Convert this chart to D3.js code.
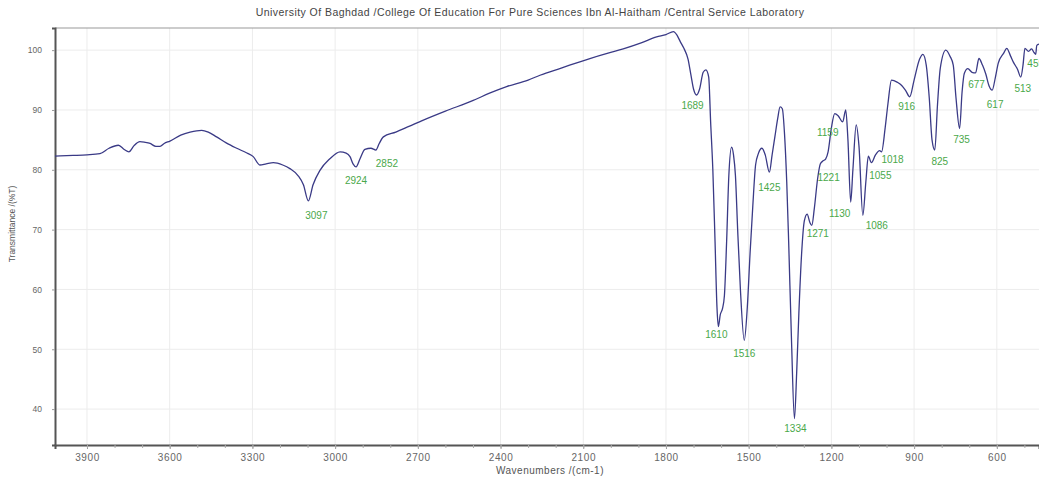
<!DOCTYPE html>
<html>
<head>
<meta charset="utf-8">
<script src="https://cdn.jsdelivr.net/npm/d3@7"></script>
<style>
  body { margin: 0; background: #fff; }
  svg { display: block; font-family: "Liberation Sans", Arial, sans-serif; }
</style>
</head>
<body>
<svg id="chart" width="1039" height="477"></svg>
<script>
// wavenumber (cm-1) and transmittance (%T)
const wavenumbers = [
  4016, 3950, 3900, 3853, 3820, 3786, 3765, 3748, 3730, 3708, 3690, 3671, 3650, 3635, 3620, 3599,
  3560, 3526, 3484, 3460, 3430, 3395, 3357, 3320, 3297, 3273, 3250, 3224, 3190, 3164, 3134, 3115,
  3097, 3080, 3055, 3020, 2982, 2960, 2946, 2935, 2924, 2910, 2892, 2870, 2852, 2840, 2825, 2780,
  2730, 2680, 2600, 2499, 2440, 2378, 2300, 2257, 2180, 2076, 2010, 1955, 1890, 1834, 1800, 1773,
  1760, 1749, 1735, 1720, 1710, 1700, 1689, 1678, 1665, 1655, 1645, 1638, 1630, 1622, 1615, 1610,
  1603, 1595, 1588, 1580, 1572, 1562, 1555, 1548, 1540, 1530, 1516, 1505, 1495, 1485, 1475, 1465,
  1452, 1440, 1425, 1415, 1405, 1395, 1386, 1378, 1370, 1362, 1355, 1345, 1334, 1326, 1318, 1308,
  1298, 1288, 1278, 1271, 1262, 1250, 1240, 1230, 1221, 1212, 1200, 1188, 1175, 1159, 1148, 1140,
  1130, 1122, 1110, 1100, 1086, 1075, 1066, 1055, 1040, 1025, 1018, 1005, 995, 982, 960, 945,
  930, 916, 900, 880, 868, 856, 845, 835, 825, 815, 805, 785, 770, 758, 748, 735,
  726, 718, 705, 690, 677, 665, 652, 640, 628, 617, 605, 595, 575, 564, 550, 540,
  525, 513, 505, 498, 485, 474, 465, 459, 455, 447
];
const transmittance = [
  82.3, 82.4, 82.5, 82.7, 83.6, 84.1, 83.4, 83.0, 84.0, 84.7, 84.6, 84.4, 83.9, 83.9, 84.4, 84.8,
  85.8, 86.3, 86.6, 86.3, 85.5, 84.5, 83.6, 82.8, 82.2, 80.8, 81.0, 81.2, 80.8, 80.2, 79.0, 77.5,
  74.8, 77.5, 79.9, 81.8, 83.0, 82.8, 82.2, 81.0, 80.5, 81.8, 83.4, 83.6, 83.3, 84.4, 85.5, 86.3,
  87.3, 88.3, 89.8, 91.6, 92.8, 93.9, 95.0, 95.8, 97.0, 98.6, 99.5, 100.2, 101.2, 102.2, 102.6, 103.1,
  102.5, 101.5, 100.3, 98.5, 96.0, 93.5, 92.5, 93.5, 96.3, 96.7, 95.5, 88.0, 80.0, 68.0, 57.0, 53.8,
  55.8, 56.8, 59.0, 68.0, 79.0, 83.8, 82.5, 79.0, 70.0, 60.0, 51.5, 57.0, 66.0, 74.0, 80.8, 82.7,
  83.6, 82.5, 79.6, 82.5, 85.5, 88.5, 90.5, 90.2, 86.0, 78.0, 68.0, 52.0, 38.4, 46.0, 56.0, 66.0,
  71.5, 72.6, 71.2, 70.7, 73.5, 78.5, 81.0, 81.5, 81.8, 83.0, 87.0, 89.4, 89.0, 88.0, 90.0, 85.0,
  74.6, 80.0, 87.5, 84.0, 72.4, 78.0, 82.3, 81.2, 82.5, 83.2, 83.0, 87.0, 91.0, 95.0, 94.6, 94.1,
  93.2, 92.2, 95.0, 98.5, 99.3, 97.5, 92.0, 85.0, 83.3, 91.0, 97.0, 100.0, 99.0, 97.5, 92.0, 86.9,
  93.0, 96.1, 96.9, 96.3, 96.2, 98.6, 97.5, 96.0, 94.0, 93.3, 95.5, 97.8, 99.5, 100.3, 99.0, 98.0,
  96.8, 95.5, 97.5, 100.3, 99.8, 100.2, 99.6, 99.3, 100.8, 101.0
];
const peaks = [3097, 2924, 2852, 1689, 1610, 1516, 1425, 1334, 1271, 1221, 1159, 1130, 1086,
  1055, 1018, 916, 825, 735, 677, 617, 513, 459];
const xTicks = [3900, 3600, 3300, 3000, 2700, 2400, 2100, 1800, 1500, 1200, 900, 600];
const yTicks = [40, 50, 60, 70, 80, 90, 100];

const titleText = "University Of Baghdad /College Of Education For Pure Sciences Ibn Al-Haitham /Central Service Laboratory";

let margin = {top: 28, right: 0, bottom: 32, left: 55};
let width_full = 1039, height_full = 477;

let svg = d3.select("#chart");

let x = d3.scaleLinear()
          .domain([4016, 447])
          .range([margin.left, width_full - margin.right]);
let y = d3.scaleLinear()
          .domain([34, 103.7])
          .range([height_full - margin.bottom, margin.top]);

let data = wavenumbers.map((w, i) => ({w: w, t: transmittance[i]}));

// grid
let grid = svg.append("g");
grid.selectAll("line.vx")
    .data(xTicks)
    .enter()
    .append("line")
    .attr("x1", d => x(d)).attr("x2", d => x(d))
    .attr("y1", y(103.7)).attr("y2", y(34))
    .attr("stroke", "#ececec");
grid.selectAll("line.hy")
    .data(yTicks)
    .enter()
    .append("line")
    .attr("x1", x(4016)).attr("x2", x(447))
    .attr("y1", d => y(d)).attr("y2", d => y(d))
    .attr("stroke", "#ececec");

// title
svg.append("text")
   .attr("x", 530)
   .attr("y", 16)
   .attr("text-anchor", "middle")
   .attr("font-size", "10.5px")
   .attr("fill", "#444")
   .style("letter-spacing", "0.45px")
   .text(titleText);

// top frame line
svg.append("line")
   .attr("x1", margin.left).attr("x2", width_full)
   .attr("y1", margin.top).attr("y2", margin.top)
   .attr("stroke", "#999").attr("stroke-width", 1.2);

// axes
let xAxis = d3.axisBottom(x)
              .tickValues(xTicks)
              .tickSize(4)
              .tickFormat(d3.format("d"));
let xMinor = d3.axisBottom(x)
               .tickValues(d3.range(3900, 447, -100))
               .tickSize(3)
               .tickFormat("");

let gx = svg.append("g")
            .attr("transform", "translate(0," + (height_full - margin.bottom) + ")")
            .call(xAxis);
svg.append("g")
   .attr("transform", "translate(0," + (height_full - margin.bottom) + ")")
   .call(xMinor)
   .call(g => g.select(".domain").remove())
   .selectAll("line").attr("stroke", "#aaa");

gx.select(".domain").attr("stroke", "#555").attr("stroke-width", 2);
gx.selectAll(".tick line").attr("stroke", "#999");
gx.selectAll(".tick text")
  .attr("fill", "#666")
  .attr("font-size", "10px")
  .attr("dy", "0.9em")
  .style("letter-spacing", "0.6px");

let yAxis = d3.axisLeft(y)
              .tickValues(yTicks)
              .tickSize(3)
              .tickFormat(d3.format("d"));
let gy = svg.append("g")
            .attr("transform", "translate(" + margin.left + ",0)")
            .call(yAxis);
gy.select(".domain").attr("stroke", "#555").attr("stroke-width", 2);
gy.selectAll(".tick line").attr("stroke", "#999");
gy.selectAll(".tick text")
  .attr("fill", "#666")
  .attr("font-size", "8.5px")
  .attr("x", -13);

// axis titles
svg.append("text")
   .attr("x", 550)
   .attr("y", 474)
   .attr("text-anchor", "middle")
   .attr("font-size", "10px")
   .attr("fill", "#555")
   .style("letter-spacing", "0.5px")
   .text("Wavenumbers /(cm-1)");
svg.append("text")
   .attr("transform", "translate(15,224) rotate(-90)")
   .attr("text-anchor", "middle")
   .attr("font-size", "8.5px")
   .attr("fill", "#555")
   .text("Transmittance /(%T)");

// spectrum
let line = d3.line()
             .x(d => x(d.w))
             .y(d => y(d.t))
             .curve(d3.curveMonotoneX);

svg.append("path")
   .datum(data)
   .attr("fill", "none")
   .attr("stroke", "#3a3a86")
   .attr("stroke-width", 1.3)
   .attr("d", line);

// peak labels, nudged like the instrument software places them
let nudge = {3097: [8, 15], 2924: [0, 14], 2852: [11, 13], 1689: [-4, 10], 1610: [-2, 8],
             1516: [0, 13], 1425: [0, 15], 1334: [1, 10], 1271: [6, 8], 1221: [3, 18],
             1159: [-15, 11], 1130: [-11, 11], 1086: [14, 10], 1055: [9, 13], 1018: [11, 8],
             916: [-3, 10], 825: [5, 11], 735: [2, 11], 677: [1, 12], 617: [3, 14],
             513: [2, 11], 459: [0, 9]};

svg.append("g")
   .selectAll("text")
   .data(peaks)
   .enter()
   .append("text")
   .attr("text-anchor", "middle")
   .attr("dominant-baseline", "central")
   .attr("font-size", "10px")
   .attr("fill", "#4aa84a")
   .each(function(p) {
      let t = transmittance[wavenumbers.indexOf(p)];
      let n = nudge[p] || [0, 11];
      d3.select(this)
        .attr("x", x(p) + n[0])
        .attr("y", y(t) + n[1])
        .text(p);
   });
</script>
</body>
</html>
